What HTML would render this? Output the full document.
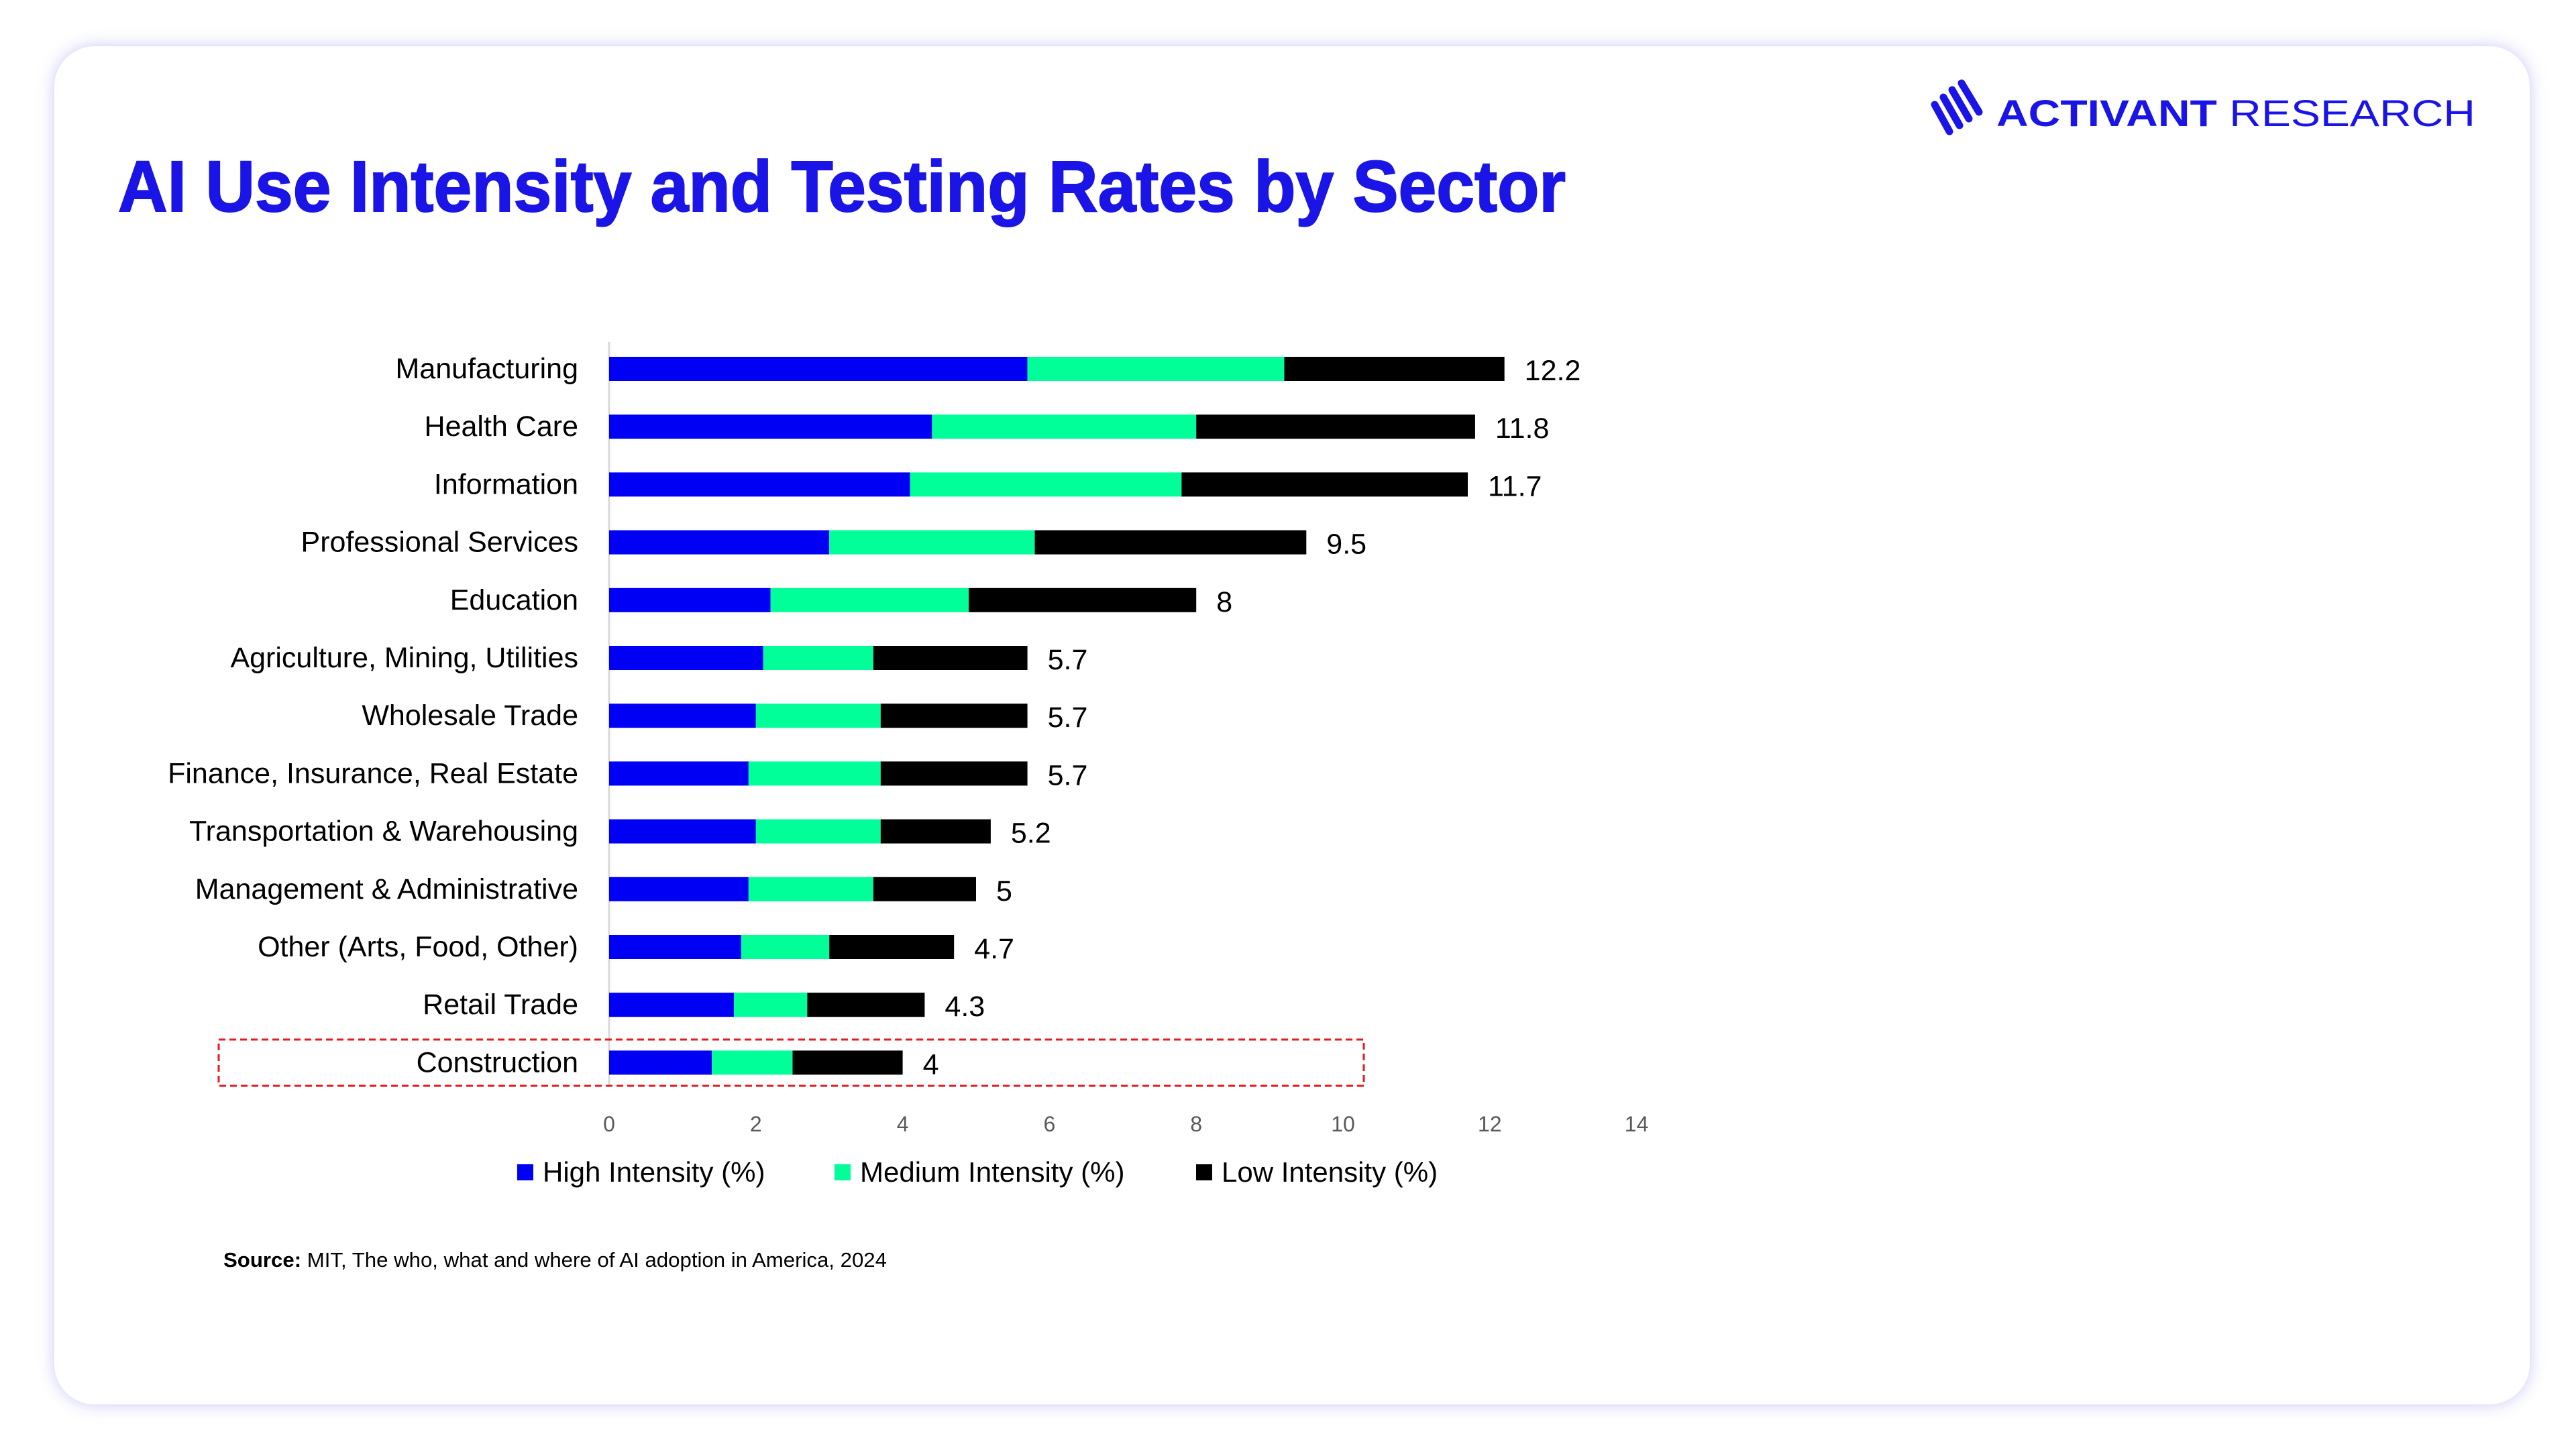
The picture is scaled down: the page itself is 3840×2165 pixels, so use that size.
<!DOCTYPE html>
<html><head><meta charset="utf-8"><style>
html,body{margin:0;padding:0;background:#fff;}
body{width:3840px;height:2160px;overflow:hidden;font-family:"Liberation Sans",sans-serif;}
</style></head><body>
<svg id="chart" width="3840" height="2160" viewBox="0 0 3840 2160" xmlns="http://www.w3.org/2000/svg">
<defs>
<filter id="glow" x="-10%" y="-10%" width="120%" height="120%"><feGaussianBlur stdDeviation="12"/></filter>
</defs>
<rect x="0" y="0" width="3840" height="2160" fill="#ffffff"/>
<rect x="81" y="69" width="3690" height="2025" rx="60" fill="#c9c9f6" filter="url(#glow)"/>
<rect x="81" y="69" width="3690" height="2025" rx="60" fill="#ffffff"/>
<text x="176" y="315" font-family="Liberation Sans, sans-serif" font-weight="bold" font-size="108" fill="#1a14e6" stroke="#1a14e6" stroke-width="2" textLength="2158" lengthAdjust="spacingAndGlyphs">AI Use Intensity  and Testing Rates by Sector</text>
<g fill="none" stroke="#1a14e6" stroke-width="11" stroke-linecap="round">
<line x1="2884" y1="156" x2="2906" y2="196"/>
<line x1="2897" y1="145" x2="2921" y2="187"/>
<line x1="2910" y1="134" x2="2935" y2="177"/>
<line x1="2924" y1="124" x2="2950" y2="167"/>
</g>
<text x="2976" y="188" font-family="Liberation Sans, sans-serif" font-size="56" fill="#1a14e6" textLength="714" lengthAdjust="spacingAndGlyphs"><tspan font-weight="600">ACTIVANT</tspan> RESEARCH</text>
<g id="plot"></g>
<rect x="326" y="1550" width="1707" height="69" fill="none" stroke="#e8191f" stroke-width="3" stroke-dasharray="10,6"/>
<text x="333" y="1889" font-family="Liberation Sans, sans-serif" font-size="31" fill="#000" textLength="989" lengthAdjust="spacingAndGlyphs"><tspan font-weight="bold">Source:</tspan> MIT, The who, what and where of AI adoption in America, 2024</text>
</svg>
<script>
const categories = ["Manufacturing","Health Care","Information","Professional Services","Education","Agriculture, Mining, Utilities","Wholesale Trade","Finance, Insurance, Real Estate","Transportation & Warehousing","Management & Administrative","Other (Arts, Food, Other)","Retail Trade","Construction"];
const highValues = [5.7,4.4,4.1,3.0,2.2,2.1,2.0,1.9,2.0,1.9,1.8,1.7,1.4];
const mediumValues = [3.5,3.6,3.7,2.8,2.7,1.5,1.7,1.8,1.7,1.7,1.2,1.0,1.1];
const lowValues = [3.0,3.8,3.9,3.7,3.1,2.1,2.0,2.0,1.5,1.4,1.7,1.6,1.5];
const totalLabels = ["12.2","11.8","11.7","9.5","8","5.7","5.7","5.7","5.2","5","4.7","4.3","4"];
const xTicks = [0,2,4,6,8,10,12,14];
const seriesNames = ["High Intensity (%)","Medium Intensity (%)","Low Intensity (%)"];

const NS = "http://www.w3.org/2000/svg";
const plot = document.getElementById("plot");
const X0 = 908, UNIT = 109.4, Y0 = 550, STEP = 86.2, BH = 36;
const colors = ["#0000f5","#00ff99","#000000"];
function xs(v){ return X0 + v*UNIT; }
function ys(i){ return Y0 + i*STEP; }
function mk(tag, attrs){ const e=document.createElementNS(NS,tag); for(const k in attrs) e.setAttribute(k,attrs[k]); plot.appendChild(e); return e; }

const axis = mk("line",{x1:X0,y1:510,x2:X0,y2:1620,stroke:"#d9d9d9","stroke-width":3});



categories.forEach((c,i)=>{
  const cy = ys(i);
  const lab = mk("text",{x:862,y:cy+14,"text-anchor":"end","font-size":43,fill:"#000","font-family":"Liberation Sans, sans-serif"});
  lab.textContent = c;
  
  
  const vals=[highValues[i],mediumValues[i],lowValues[i]];
  let acc=0;
  vals.forEach((v,s)=>{
    const r = mk("rect",{x:xs(acc),y:cy-BH/2,width:xs(acc+v)-xs(acc),height:BH,fill:colors[s]});
    
    
    acc+=v;
  });
  const t = mk("text",{x:xs(acc)+30,y:cy+17,"font-size":43,fill:"#000","font-family":"Liberation Sans, sans-serif"});
  t.textContent = totalLabels[i];
  
  
});

xTicks.forEach(v=>{
  const t = mk("text",{x:xs(v),y:1687,"text-anchor":"middle","font-size":32,fill:"#595959","font-family":"Liberation Sans, sans-serif"});
  t.textContent = v;
  
  
});

const legendX = [771,1244,1783];
seriesNames.forEach((n,s)=>{
  const sq = mk("rect",{x:legendX[s],y:1736,width:24,height:24,fill:colors[s]});
  
  
  const t = mk("text",{x:legendX[s]+38,y:1762,"font-size":42,fill:"#000","font-family":"Liberation Sans, sans-serif"});
  t.textContent = n;
  
  
});
</script>
</body></html>
